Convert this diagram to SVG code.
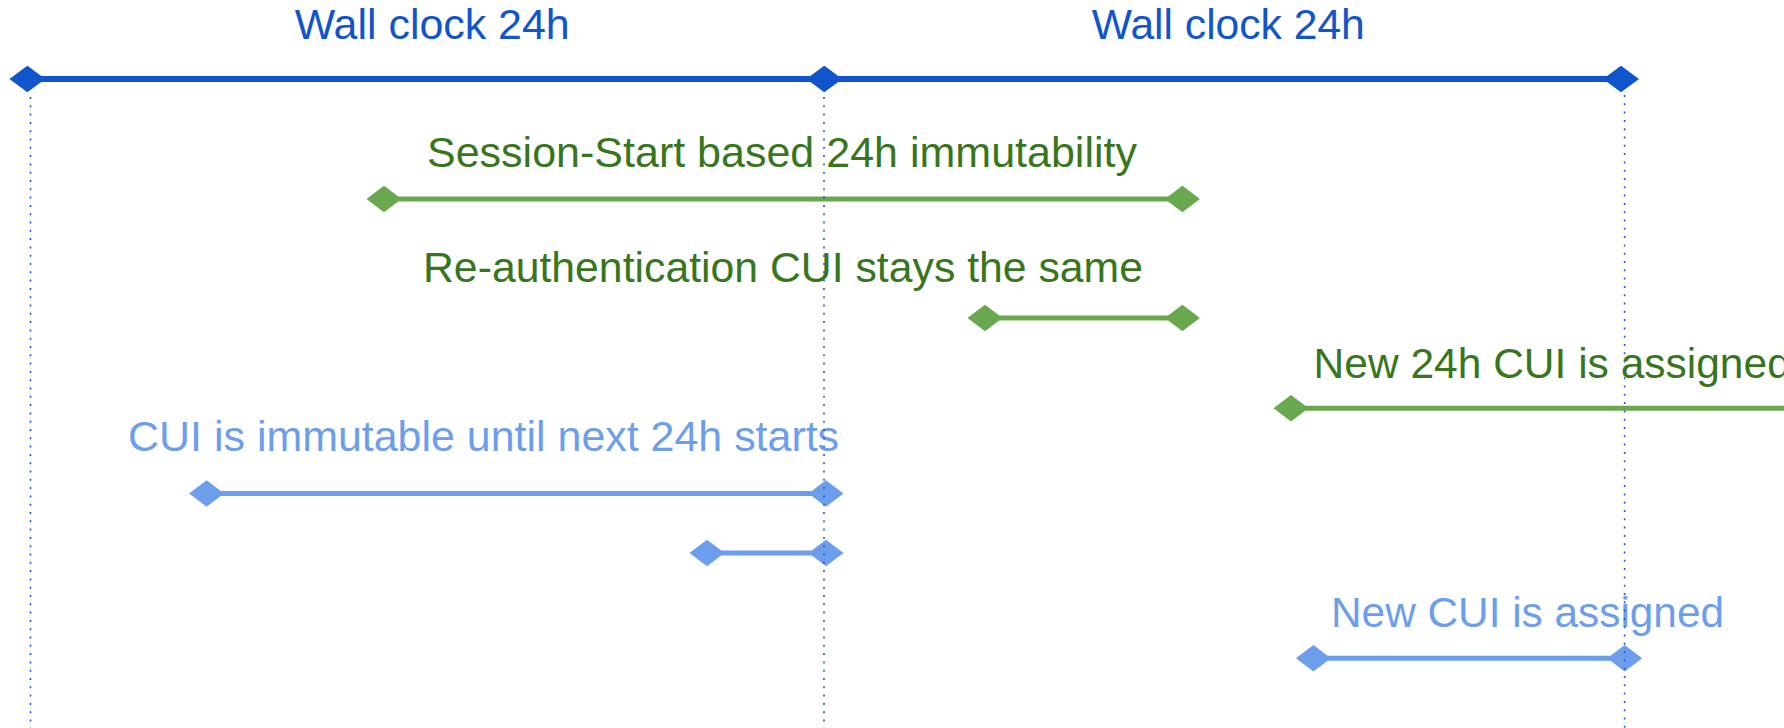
<svg xmlns="http://www.w3.org/2000/svg" width="1784" height="728" viewBox="0 0 1784 728">
  <style>
    text { font-family: "Liberation Sans", Arial, Helvetica, sans-serif; font-size: 42.5px; }
    .dark { fill: #1155CC; }
    .green-t { fill: #38761D; }
    .light-t { fill: #6D9EEB; }
    .span-dark { stroke: #1155CC; stroke-width: 6; fill: none; }
    .span-green { stroke: #6AA84F; stroke-width: 5; fill: none; }
    .span-light { stroke: #6D9EEB; stroke-width: 5; fill: none; }
    .guide { stroke: #1A5BD6; stroke-width: 1.6; stroke-dasharray: 2 6.3; fill: none; }
  </style>
  <defs>
    <marker id="dia-dark" markerUnits="userSpaceOnUse" viewBox="-18 -13.5 36 27" markerWidth="36" markerHeight="27" refX="0" refY="0" orient="auto">
      <path d="M-18 0 L0 -13.3 L18 0 L0 13.3 Z" fill="#1155CC"/>
    </marker>
    <marker id="dia-green" markerUnits="userSpaceOnUse" viewBox="-18 -13.5 36 27" markerWidth="36" markerHeight="27" refX="0" refY="0" orient="auto">
      <path d="M-17.5 0 L0 -13.3 L17.5 0 L0 13.3 Z" fill="#6AA84F"/>
    </marker>
    <marker id="dia-light" markerUnits="userSpaceOnUse" viewBox="-18 -13.5 36 27" markerWidth="36" markerHeight="27" refX="0" refY="0" orient="auto">
      <path d="M-17.5 0 L0 -13.3 L17.5 0 L0 13.3 Z" fill="#6D9EEB"/>
    </marker>
  </defs>

  <rect width="1784" height="728" fill="#FFFFFF"/>

  <!-- wall clock days -->
  <g id="wall-clock">
    <text class="dark" x="294.7" y="39.3" textLength="275" lengthAdjust="spacingAndGlyphs">Wall clock 24h</text>
    <text class="dark" x="1091.8" y="39.3" textLength="273" lengthAdjust="spacingAndGlyphs">Wall clock 24h</text>
  </g>

  <g id="session-start">
    <text class="green-t" x="427" y="166.7" textLength="710" lengthAdjust="spacingAndGlyphs">Session-Start based 24h immutability</text>
  </g>

  <g id="reauth">
    <text class="green-t" x="423" y="281.5" textLength="720" lengthAdjust="spacingAndGlyphs">Re-authentication CUI stays the same</text>
  </g>

  <g id="new-24h-cui">
    <text class="green-t" x="1313.6" y="378">New 24h CUI is assigned</text>
  </g>

  <g id="cui-immutable">
    <text class="light-t" x="128.1" y="451" textLength="711" lengthAdjust="spacingAndGlyphs">CUI is immutable until next 24h starts</text>
  </g>

  <g id="new-cui">
    <text class="light-t" x="1331" y="626.7" textLength="393" lengthAdjust="spacingAndGlyphs">New CUI is assigned</text>
  </g>

  <!-- spans -->
  <g id="connectors">
    <line class="span-dark" x1="27.4" y1="79" x2="824.3" y2="79" marker-start="url(#dia-dark)" marker-end="url(#dia-dark)"/>
    <line class="span-dark" x1="824.3" y1="79" x2="1621" y2="79" marker-end="url(#dia-dark)"/>
    <line class="span-green" x1="384" y1="199" x2="1182.4" y2="199" marker-start="url(#dia-green)" marker-end="url(#dia-green)"/>
    <line class="span-green" x1="985" y1="318" x2="1182.4" y2="318" marker-start="url(#dia-green)" marker-end="url(#dia-green)"/>
    <line class="span-green" x1="1291" y1="408.3" x2="1800" y2="408.3" marker-start="url(#dia-green)"/>
    <line class="span-light" x1="206.6" y1="493.5" x2="826" y2="493.5" marker-start="url(#dia-light)" marker-end="url(#dia-light)"/>
    <line class="span-light" x1="707" y1="553" x2="826" y2="553" marker-start="url(#dia-light)" marker-end="url(#dia-light)"/>
    <line class="span-light" x1="1313.4" y1="658.3" x2="1624.7" y2="658.3" marker-start="url(#dia-light)" marker-end="url(#dia-light)"/>
  </g>

  <!-- day boundary guides -->
  <g id="guides">
    <line class="guide" x1="30.5" y1="97" x2="30.5" y2="728"/>
    <line class="guide" x1="824" y1="97" x2="824" y2="728"/>
    <line class="guide" x1="1624.6" y1="95" x2="1624.6" y2="728"/>
  </g>
</svg>
